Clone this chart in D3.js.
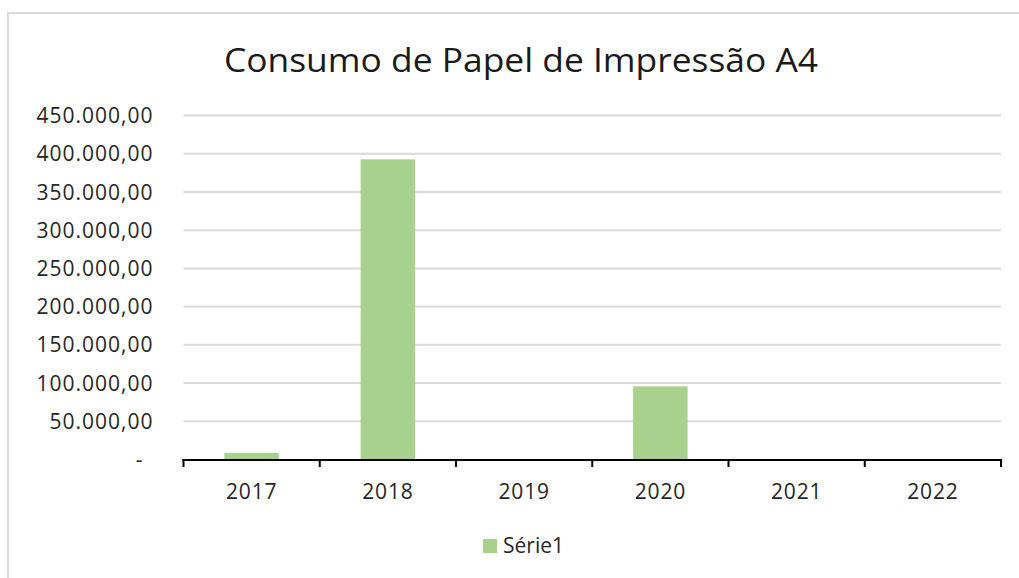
<!DOCTYPE html>
<html>
<head>
<meta charset="utf-8">
<script src="https://cdn.jsdelivr.net/npm/d3@7"></script>
<style>
  body { margin: 0; background: #fff; }
  svg text { font-family: "Open Sans", sans-serif; }
</style>
</head>
<body>
<div id="chart"></div>
<script>
// chart data
var years = ['2017', '2018', '2019', '2020', '2021', '2022'];
var consumo = [8000, 392000, 0, 95000, 0, 0];
var yTicks = [0, 50000, 100000, 150000, 200000, 250000, 300000, 350000, 400000, 450000];
var seriesName = 'Série1';
var chartTitle = 'Consumo de Papel de Impressão A4';

var width = 1019, height = 578;
var plot = {left: 183.5, right: 1001, top: 115, bottom: 459};
var barColour = '#a9d18e';
var gridColour = '#d9d9d9';

var ptBR = d3.formatLocale({decimal: ',', thousands: '.', grouping: [3], currency: ['R$', '']});
var fmt = ptBR.format(',.2f');

var svg = d3.select('#chart')
  .append('svg')
  .attr('width', width)
  .attr('height', height);

// chart area border (only top and left visible in the crop)
svg.append('rect')
  .attr('x', 8).attr('y', 13)
  .attr('width', width + 20).attr('height', height + 20)
  .attr('fill', '#fff')
  .attr('stroke', gridColour)
  .attr('stroke-width', 2);

svg.append('text')
  .attr('x', 521).attr('y', 72)
  .attr('text-anchor', 'middle')
  .attr('font-size', 33)
  .attr('fill', '#1a1a1a')
  .attr('textLength', 594)
  .attr('lengthAdjust', 'spacingAndGlyphs')
  .text(chartTitle);

var x = d3.scaleBand()
  .domain(years)
  .range([plot.left, plot.right])
  .paddingInner(0.6)
  .paddingOuter(0.3);

var y = d3.scaleLinear()
  .domain([0, 450000])
  .range([plot.bottom, plot.top]);

// gridlines + y labels
var yAxis = svg.append('g')
  .attr('transform', 'translate(' + plot.left + ',0)')
  .call(d3.axisLeft(y)
    .tickValues(yTicks)
    .tickSize(-(plot.right - plot.left))
    .tickPadding(31)
    .tickFormat(function(d){ return d === 0 ? '-' : fmt(d); }));
yAxis.select('.domain').remove();
yAxis.selectAll('.tick line')
  .attr('stroke', gridColour)
  .attr('stroke-width', 2)
  .attr('display', function(d){ return d === 0 ? 'none' : null; });
yAxis.selectAll('.tick text')
  .attr('font-size', 21)
  .attr('fill', '#262626')
  .attr('letter-spacing', '1px')
  .attr('dy', '0.36em')
  .attr('dx', function(d){ return d === 0 ? -9 : 1; });

// bars
svg.selectAll('.bar').data(consumo)
  .enter().append('rect')
  .attr('class', 'bar')
  .attr('x', function(d, i){ return x(years[i]); })
  .attr('width', x.bandwidth())
  .attr('y', function(d){ return y(d); })
  .attr('height', function(d){ return y(0) - y(d); })
  .attr('fill', barColour);

// x axis: labels centred, ticks on category boundaries
var xAxis = svg.append('g')
  .attr('transform', 'translate(0,' + plot.bottom + ')')
  .call(d3.axisBottom(x).tickSize(0).tickPadding(25));
xAxis.select('.domain').remove();
xAxis.selectAll('.tick text')
  .attr('font-size', 21)
  .attr('letter-spacing', '0.8px')
  .attr('fill', '#262626');

var boundaries = d3.range(years.length + 1).map(function(i){ return plot.left + i * x.step(); });
svg.append('line')
  .attr('x1', plot.left - 1).attr('x2', plot.right + 1)
  .attr('y1', plot.bottom + 1).attr('y2', plot.bottom + 1)
  .attr('stroke', '#000')
  .attr('stroke-width', 2);
svg.selectAll('.xtick').data(boundaries)
  .enter().append('line')
  .attr('class', 'xtick')
  .attr('x1', function(d){ return d; }).attr('x2', function(d){ return d; })
  .attr('y1', plot.bottom).attr('y2', plot.bottom + 8)
  .attr('stroke', '#000')
  .attr('stroke-width', 2);

// legend
var legend = svg.append('g').attr('transform', 'translate(483,539)');
legend.append('rect')
  .attr('width', 14).attr('height', 14)
  .attr('fill', barColour);
legend.append('text')
  .attr('x', 20).attr('y', 14)
  .attr('font-size', 21)
  .attr('fill', '#262626')
  .text(seriesName);
</script>
</body>
</html>
